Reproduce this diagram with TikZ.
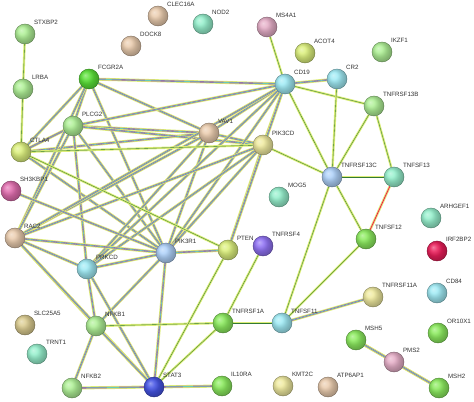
\documentclass[tikz,border=0pt]{standalone}
\usepackage{fontspec}
\setsansfont{Liberation Sans}
\usepackage{xcolor}
\usetikzlibrary{backgrounds}
\definecolor{sgreen}{RGB}{175,240,150}
\definecolor{sbright}{RGB}{90,225,55}
\definecolor{sgreenb}{RGB}{140,235,95}
\definecolor{stan}{RGB}{235,205,175}
\definecolor{syel}{RGB}{220,240,125}
\definecolor{skhaki}{RGB}{240,235,160}
\definecolor{scyan}{RGB}{160,235,245}
\definecolor{sblue}{RGB}{175,210,250}
\definecolor{steal}{RGB}{150,240,205}
\definecolor{spink}{RGB}{230,175,200}
\definecolor{smag}{RGB}{225,110,175}
\definecolor{sred}{RGB}{235,30,90}
\definecolor{spurple}{RGB}{145,115,245}
\definecolor{sdblue}{RGB}{70,85,230}
\definecolor{solive}{RGB}{220,205,145}
\tikzset{
  ball/.style={circle, draw=#1!55!black, line width=0.35pt, fill=#1,
               postaction={ball color=#1, fill opacity=0.5},
               minimum size=0.6cm, inner sep=0pt},
  ball/.default=sgreen,
  lbl/.style={font=\sffamily\fontsize{5.3}{6}\selectfont, text=black!80,
              inner sep=0.5pt, label distance=1.2pt},
  lnk/.style={draw=violet!70, double=cyan!50!green!60, double distance=0.55pt,
              line width=0.3pt,
              preaction={draw=yellow!75!green!55, line width=2.6pt}},
  lnkg/.style={draw=green!35!black!80, line width=0.3pt,
               preaction={draw=yellow!75!green!55, line width=2pt}},
  lnkr/.style={draw=red!70!magenta, line width=0.6pt,
               preaction={draw=yellow!75!green!55, line width=2.2pt}},
}
\begin{document}
\begin{tikzpicture}[x=0.03cm, y=-0.03cm]
  \useasboundingbox (0,0) rectangle (474,402);
  %% proteins
  \foreach \n/\x/\y/\c in {
      STXBP2/25/34/sgreen, CLEC16A/158/16/stan, NOD2/203/24/steal,
      DOCK8/131/46/stan, LRBA/23/89/sgreen, FCGR2A/89/79/sbright,
      PLCG2/73/126/sgreen, VAV1/209/133/stan, CTLA4/21/152/syel,
      MS4A1/267/27/spink, ACOT4/305/53/syel, IKZF1/382/52/sgreen,
      CD19/285/84/scyan, CR2/337/79/scyan, TNFRSF13B/374/106/sgreen,
      PIK3CD/263/145/skhaki, TNFRSF13C/332/177/sblue, TNFSF13/394/177/steal,
      MOG5/279/197/steal, ARHGEF1/431/218/steal, TNFSF12/366/239/sgreenb,
      IRF2BP2/437/251/sred, TNFRSF4/263/246/spurple, PTEN/228/250/syel,
      SH3KBP1/11/191/smag, RAC2/15/238/stan, PIK3R1/166/253/sblue,
      PRKCD/87/269/scyan, SLC25A5/25/325/solive, TRNT1/37/354/steal,
      NFKB1/96/326/sgreen, NFKB2/72/388/sgreen, STAT3/154/387/sdblue,
      TNFRSF1A/223/323/sgreenb, IL10RA/222/386/sgreenb,
      TNFSF11/282/323/scyan, TNFRSF11A/373/297/skhaki, CD84/437/293/scyan,
      OR10X1/438/333/sgreenb, MSH5/356/340/sgreenb, PMS2/394/362/spink,
      MSH2/439/388/sgreenb, KMT2C/283/386/skhaki, ATP6AP1/328/387/stan}
    \node[ball=\c, label={[lbl]45:\n}] (\n) at (\x,\y) {};
  %% associations
  \begin{scope}[on background layer]
    \foreach \a/\b in {CTLA4/FCGR2A, CTLA4/PLCG2, CTLA4/VAV1, CTLA4/PIK3R1,
        FCGR2A/CD19, FCGR2A/PLCG2, FCGR2A/VAV1, FCGR2A/PIK3R1, FCGR2A/RAC2,
        PLCG2/VAV1, PLCG2/CD19, PLCG2/PIK3CD, PLCG2/PIK3R1, PLCG2/PRKCD,
        PLCG2/RAC2, VAV1/CD19, VAV1/PIK3CD, VAV1/PIK3R1, VAV1/RAC2,
        VAV1/PRKCD, CD19/PIK3CD, CD19/PIK3R1, CD19/RAC2, CD19/PRKCD,
        CD19/CR2, PIK3CD/PIK3R1, PIK3CD/PRKCD, PIK3CD/RAC2, PIK3CD/PTEN,
        PIK3R1/RAC2, PIK3R1/PRKCD, PIK3R1/NFKB1, PIK3R1/STAT3, PIK3R1/PTEN,
        PIK3R1/SH3KBP1, PRKCD/RAC2, PRKCD/NFKB1, PRKCD/STAT3, RAC2/NFKB1,
        RAC2/STAT3, NFKB1/NFKB2, NFKB1/STAT3, NFKB2/STAT3, STAT3/IL10RA,
        TNFSF11/TNFRSF11A, MSH5/PMS2, PMS2/MSH2, MSH5/MSH2, CD19/PTEN}
      \draw[lnk] (\a) -- (\b);
    \foreach \a/\b in {STXBP2/LRBA, LRBA/CTLA4, CTLA4/PIK3CD, CTLA4/PTEN,
        CD19/MS4A1, CD19/TNFRSF13B, CD19/TNFRSF13C, CR2/TNFRSF13C,
        TNFRSF13B/TNFRSF13C, TNFRSF13B/TNFSF13, TNFRSF13C/TNFSF13,
        TNFRSF13C/TNFSF12, TNFRSF13C/PIK3CD, TNFRSF13C/TNFSF11,
        TNFSF12/TNFSF11, TNFSF11/TNFRSF1A, TNFRSF1A/NFKB1, TNFRSF1A/STAT3,
        TNFRSF1A/TNFRSF4, PTEN/STAT3}
      \draw[lnkg] (\a) -- (\b);
    \draw[lnkr] (TNFSF13) -- (TNFSF12);
  \end{scope}
\end{tikzpicture}
\end{document}
